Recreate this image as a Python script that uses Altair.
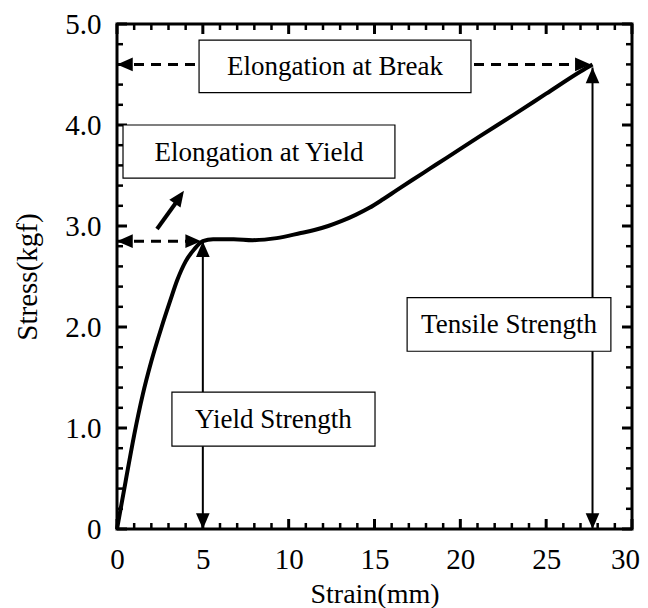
import altair as alt
import pandas as pd

# ---- data ----
strain = [0, 0.5, 1.0, 1.5, 2.0, 2.6, 3.1, 3.5, 4.0, 4.5, 5.0, 5.6, 6.8, 7.9,
          9.3, 10.7, 11.5, 12.3, 13.1, 13.9, 14.7, 15.5, 16.3, 17.2, 18.2, 19.2,
          21.1, 23.1, 25.0, 27.0, 27.7]
stress = [0, 0.47, 0.93, 1.33, 1.66, 2.0, 2.26, 2.46, 2.65, 2.77, 2.85, 2.87, 2.87, 2.86,
          2.88, 2.93, 2.96, 3.0, 3.05, 3.11, 3.18, 3.265, 3.355, 3.455, 3.565, 3.675,
          3.885, 4.10, 4.31, 4.53, 4.60]

x_major = [0, 5, 10, 15, 20, 25, 30]
x_minor = [v for v in range(1, 30) if v % 5 != 0]
y_major = [0, 1, 2, 3, 4, 5]
y_minor = [round(i * 0.2, 1) for i in range(1, 25) if i % 5 != 0]

# annotation boxes (data units)
box_text = ["Elongation at Break", "Elongation at Yield", "Yield Strength", "Tensile Strength"]
box_x1 = [4.78, 0.35, 3.2, 16.9]
box_x2 = [20.62, 16.19, 15.03, 28.77]
box_y1 = [4.32, 3.475, 0.82, 1.76]
box_y2 = [4.84, 4.0, 1.356, 2.29]

# dashed guide lines
dash_x1 = [0, 0]
dash_x2 = [27.6, 4.9]
dash_y = [4.6, 2.85]

# solid vertical arrows
vert_x = [5.0, 27.7]
vert_top = [2.85, 4.57]

# small diagonal arrow
diag_x = [2.33, 3.6]
diag_y = [2.97, 3.27]

# arrow heads: tip position and heading (deg clockwise from up)
head_x = [0, 27.6, 27.7, 27.7, 0, 4.9, 5.0, 5.0, 3.9]
head_y = [4.6, 4.6, 4.57, 0, 2.85, 2.85, 2.85, 0, 3.35]
head_a = [270, 90, 0, 180, 270, 90, 0, 180, 35]

W, H = 515, 505
FONT = "Liberation Serif"
xs = alt.Scale(domain=[0, 30], nice=False, zero=False)
ys = alt.Scale(domain=[0, 5], nice=False, zero=False)

XAX = alt.Axis(
    values=x_major, ticks=False, domain=False, grid=False, labelFont=FONT, labelFontSize=29,
    labelColor="black", labelBaseline="alphabetic", labelPadding=39, labelFlush=False,
    labelOverlap=False,
    labelOffset={"condition": {"test": "datum.value == 30", "value": -7}, "value": 0},
    title="Strain(mm)", titleFont=FONT, titleFontSize=28, titleFontWeight="normal",
    titleColor="black", titleBaseline="alphabetic", titleY=73)
YAX = alt.Axis(
    values=y_major, ticks=False, domain=False, grid=False, labelFont=FONT, labelFontSize=29,
    labelColor="black", labelPadding=16, labelFlush=False, labelOverlap=False,
    labelExpr="datum.value == 0 ? '0' : format(datum.value, '.1f')",
    title="Stress(kgf)", titleFont=FONT, titleFontSize=29, titleFontWeight="normal",
    titleColor="black", titleX=-90, titleBaseline="middle")


def X(f):
    return alt.X(f, scale=xs, axis=XAX)


def Y(f):
    return alt.Y(f, scale=ys, axis=YAX)


curve_df = pd.DataFrame({"x": strain, "y": stress})
curve = alt.Chart(curve_df).mark_line(color="black", strokeWidth=4, interpolate="monotone").encode(
    x=X("x:Q"), y=Y("y:Q"))


def xticks(vals, length, sw):
    df = pd.DataFrame({"x": vals})
    b = alt.Chart(df).mark_rule(color="black", strokeWidth=sw).encode(
        x=X("x:Q"), y=alt.value(H), y2=alt.value(H - length))
    t = alt.Chart(df).mark_rule(color="black", strokeWidth=sw).encode(
        x=X("x:Q"), y=alt.value(0), y2=alt.value(length))
    return [b, t]


def yticks(vals, length, sw):
    df = pd.DataFrame({"y": vals})
    l = alt.Chart(df).mark_rule(color="black", strokeWidth=sw).encode(
        y=Y("y:Q"), x=alt.value(0), x2=alt.value(length))
    r = alt.Chart(df).mark_rule(color="black", strokeWidth=sw).encode(
        y=Y("y:Q"), x=alt.value(W), x2=alt.value(W - length))
    return [l, r]


ticks = xticks(x_major, 10, 3) + xticks(x_minor, 6, 2.5) + yticks(y_major, 10, 3) + yticks(y_minor, 6, 2.5)

dash_df = pd.DataFrame({"x": dash_x1, "x2": dash_x2, "y": dash_y})
dashed = alt.Chart(dash_df).mark_rule(color="black", strokeWidth=3, strokeDash=[10, 7]).encode(
    x=X("x:Q"), x2="x2:Q", y=Y("y:Q"))

vert_df = pd.DataFrame({"x": vert_x, "y": [0, 0], "y2": vert_top})
vert = alt.Chart(vert_df).mark_rule(color="black", strokeWidth=2).encode(
    x=X("x:Q"), y=Y("y:Q"), y2="y2:Q")

diag_df = pd.DataFrame({"x": [diag_x[0]], "x2": [diag_x[1]], "y": [diag_y[0]], "y2": [diag_y[1]]})
diag = alt.Chart(diag_df).mark_rule(color="black", strokeWidth=4).encode(
    x=X("x:Q"), x2="x2:Q", y=Y("y:Q"), y2="y2:Q")

box_df = pd.DataFrame({"t": box_text, "x": box_x1, "x2": box_x2, "y": box_y1, "y2": box_y2})
box_df["cx"] = (box_df["x"] + box_df["x2"]) / 2
box_df["cy"] = (box_df["y"] + box_df["y2"]) / 2
boxes = alt.Chart(box_df).mark_rect(fill="white", stroke="black", strokeWidth=1.2).encode(
    x=X("x:Q"), x2="x2:Q", y=Y("y:Q"), y2="y2:Q")
texts = alt.Chart(box_df).mark_text(font=FONT, fontSize=27, color="black",
                                    align="center", baseline="middle", dy=1).encode(
    x=X("cx:Q"), y=Y("cy:Q"), text="t:N")

head_df = pd.DataFrame({"x": head_x, "y": head_y, "a": head_a})
heads = alt.Chart(head_df).mark_point(
    shape="M0,0 L-1.3,3 L1.3,3 Z", size=110, filled=True, color="black", opacity=1, strokeWidth=0
).encode(
    x=X("x:Q"), y=Y("y:Q"), angle=alt.Angle("a:Q", scale=None))

chart = alt.layer(curve, *ticks, dashed, vert, diag, boxes, texts, heads).properties(
    width=W, height=H,
    autosize=alt.AutoSizeParams(type="none"),
    padding={"left": 109, "top": 16, "right": 8, "bottom": 79},
    background="white",
).configure_view(stroke="black", strokeWidth=3)

chart.save("out.html", embed_options={"renderer": "svg", "actions": False})
